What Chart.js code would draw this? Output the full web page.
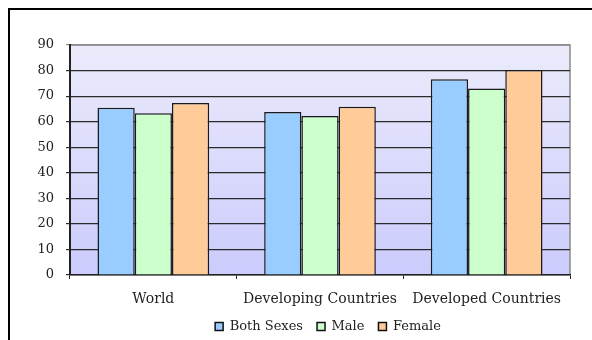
<!DOCTYPE html>
<html>
<head>
<meta charset="utf-8">
<script src="https://cdn.jsdelivr.net/npm/chart.js@4"></script>
<style>
  html, body { margin: 0; padding: 0; background: #fff; overflow: hidden; }
  #wrap { position: relative; width: 592px; height: 340px; }
  #frame { position: absolute; left: 8px; top: 8px; width: 620px; height: 400px;
           border: 2.5px solid #000; box-sizing: border-box; }
  canvas { position: absolute; left: 0; top: 0; }
</style>
</head>
<body>
<div id="wrap">
  <div id="frame"></div>
  <canvas id="chart" width="592" height="340"></canvas>
</div>
<script>
var regions = ['World', 'Developing Countries', 'Developed Countries'];
var bothSexes = [65.4, 63.8, 76.6];
var male = [63.3, 62.2, 73.0];
var female = [67.3, 65.8, 80.2];
var yTicks = [0, 10, 20, 30, 40, 50, 60, 70, 80, 90];

var serifFamily = '"DejaVu Serif", "Liberation Serif", serif';

// gradient fill behind the bars, inside the plot area only
var plotBackground = {
	id: 'plotBackground',
	beforeDraw: function(chart) {
		var a = chart.chartArea;
		var ctx = chart.ctx;
		var g = ctx.createLinearGradient(0, a.top, 0, a.bottom);
		g.addColorStop(0, '#EBEBFB');
		g.addColorStop(1, '#CBCBFD');
		ctx.save();
		ctx.fillStyle = g;
		ctx.fillRect(a.left, a.top, a.right - a.left, a.bottom - a.top);
		ctx.strokeStyle = '#8a8a8a';
		ctx.lineWidth = 1.5;
		ctx.beginPath();
		ctx.moveTo(a.left, a.top);
		ctx.lineTo(a.right, a.top);
		ctx.lineTo(a.right, a.bottom);
		ctx.stroke();
		ctx.restore();
	}
};

// pull the legend row a little closer to the category labels
var legendNudge = {
	id: 'legendNudge',
	afterLayout: function(chart) {
		var lg = chart.legend;
		lg.top -= 5;
		lg.bottom -= 5;
		lg.left += 8;
		lg.right += 8;
	}
};

function bars(label, values, color) {
	return {
		label: label,
		data: values,
		backgroundColor: color,
		borderColor: '#1a1a1a',
		borderWidth: 1.5,
		categoryPercentage: 0.67,
		barPercentage: 1.0
	};
}

new Chart(document.getElementById('chart').getContext('2d'), {
	type: 'bar',
	data: {
		labels: regions,
		datasets: [
			bars('Both Sexes', bothSexes, '#99CCFF'),
			bars('Male', male, '#CCFFCC'),
			bars('Female', female, '#FFCC99')
		]
	},
	plugins: [plotBackground, legendNudge],
	options: {
		responsive: false,
		animation: false,
		layout: { padding: { left: 0, right: 22, top: 45, bottom: -8 } },
		plugins: {
			legend: {
				position: 'bottom',
				fullSize: false,
				labels: {
					boxWidth: 8,
					boxHeight: 8,
					padding: 14,
					color: '#222',
					font: { family: serifFamily, size: 13 },
					generateLabels: function(chart) {
						var items = Chart.defaults.plugins.legend.labels.generateLabels(chart);
						items.forEach(function(it) { it.lineWidth = 1.5; it.strokeStyle = '#111'; });
						return items;
					}
				}
			},
			tooltip: { enabled: false }
		},
		scales: {
			x: {
				afterFit: function(s) { s.height = 36; },
				grid: {
					offset: true,
					drawOnChartArea: false,
					drawTicks: true,
					tickLength: 4,
					color: '#222'
				},
				border: { color: '#222', width: 1.5 },
				ticks: { color: '#222', font: { family: serifFamily, size: 14 }, padding: 12, maxRotation: 0 }
			},
			y: {
				min: 0,
				max: 90,
				afterFit: function(s) { s.width = 70; },
				afterBuildTicks: function(s) {
					s.ticks = yTicks.map(function(v) { return { value: v }; });
				},
				grid: {
					color: function(c) { return c.tick && c.tick.value === 90 ? '#8a8a8a' : '#2a2a2a'; },
					lineWidth: 1.2,
					tickLength: 4
				},
				border: { color: '#222', width: 2 },
				ticks: { color: '#222', font: { family: serifFamily, size: 13 }, padding: 12 }
			}
		}
	}
});
</script>
</body>
</html>
